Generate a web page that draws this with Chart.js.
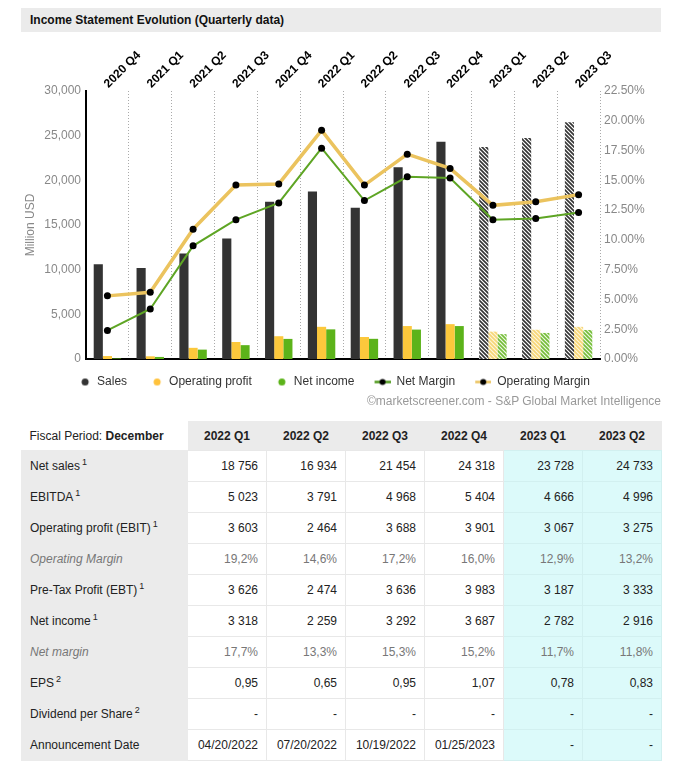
<!DOCTYPE html>
<html>
<head>
<meta charset="utf-8">
<script src="https://cdn.jsdelivr.net/npm/chart.js@4.4.0/dist/chart.umd.min.js"></script>
<style>
  body { margin: 0; background: #fff; font-family: "Liberation Sans", Arial, sans-serif; width: 678px; height: 762px; overflow: hidden; position: relative; }
  #title { position: absolute; left: 21px; top: 8px; width: 631px; height: 24px; line-height: 24px; padding-left: 9px; background: #ebebeb; font-weight: bold; font-size: 12px; color: #111; }
  #chartBox { position: absolute; left: 15px; top: 36px; width: 632px; height: 362px; }
  #credit { position: absolute; right: 17px; top: 394px; font-size: 12px; color: #999; }
  #fin { position: absolute; left: 21px; top: 421px; width: 640px; border-collapse: collapse; table-layout: fixed; font-size: 12px; color: #222; }
  #fin th { height: 29px; background: #ebebeb; font-weight: bold; text-align: center; padding: 0; border: none; }
  #fin th.first { background: #fff; font-weight: normal; text-align: left; padding-left: 8px; }
  #fin td { height: 30px; padding: 0 8px; border: 1px solid #e8e8e8; text-align: right; white-space: nowrap; }
  #fin td.lab { text-align: left; background: #ebebeb; border-color: #ebebeb; }
  #fin td.est { background: #dcfafa; border-color: #d2f0f0; }
  #fin tr.soft td { color: #777; }
  #fin tr.soft td.lab { font-style: italic; }
  #fin sup { font-size: 9px; vertical-align: 5px; line-height: 0; margin-left: 2px; }
</style>
</head>
<body>
<div id="title">Income Statement Evolution (Quarterly data)</div>
<div id="chartBox"><canvas id="myChart"></canvas></div>
<div id="credit">©marketscreener.com - S&amp;P Global Market Intelligence</div>
<table id="fin"></table>
<script>
// chart data (million USD / percent)
const quarters = ['2020 Q4', '2021 Q1', '2021 Q2', '2021 Q3', '2021 Q4', '2022 Q1', '2022 Q2', '2022 Q3', '2022 Q4', '2023 Q1', '2023 Q2', '2023 Q3'];
const sales = [10600, 10200, 11800, 13500, 17600, 18756, 16934, 21454, 24318, 23728, 24733, 26500];
const operatingProfit = [330, 300, 1250, 1900, 2550, 3603, 2464, 3688, 3901, 3067, 3275, 3600];
const netIncome = [60, 230, 1050, 1550, 2250, 3318, 2259, 3292, 3687, 2782, 2916, 3250];
const netMargin = [2.4, 4.2, 9.5, 11.7, 13.1, 17.7, 13.3, 15.3, 15.2, 11.7, 11.8, 12.3];
const operatingMargin = [5.3, 5.6, 10.9, 14.6, 14.7, 19.2, 14.6, 17.2, 16.0, 12.9, 13.2, 13.8];
const isEstimate = quarters.map(q => q.startsWith('2023'));

// table data
const tableQuarters = ['2022 Q1', '2022 Q2', '2022 Q3', '2022 Q4', '2023 Q1', '2023 Q2'];
const tableEstimate = [false, false, false, false, true, true];
const netSalesRow = [18756, 16934, 21454, 24318, 23728, 24733];
const ebitdaRow = [5023, 3791, 4968, 5404, 4666, 4996];
const ebitRow = [3603, 2464, 3688, 3901, 3067, 3275];
const opMarginRow = [19.2, 14.6, 17.2, 16.0, 12.9, 13.2];
const ebtRow = [3626, 2474, 3636, 3983, 3187, 3333];
const netIncomeRow = [3318, 2259, 3292, 3687, 2782, 2916];
const netMarginRow = [17.7, 13.3, 15.3, 15.2, 11.7, 11.8];
const epsRow = [0.95, 0.65, 0.95, 1.07, 0.78, 0.83];
const dividendRow = [null, null, null, null, null, null];
const announceRow = ['04/20/2022', '07/20/2022', '10/19/2022', '01/25/2023', null, null];

const SALES = '#333333', YELLOW = '#fcc83c', GREEN = '#5cb31a';

// striped fill for the estimated quarters
function stripes(fg, bg) {
    const c = document.createElement('canvas');
    c.width = 4; c.height = 4;
    const g = c.getContext('2d');
    g.fillStyle = bg; g.fillRect(0, 0, 4, 4);
    g.strokeStyle = fg; g.lineWidth = 1.6;
    g.beginPath();
    g.moveTo(-1, -1); g.lineTo(5, 5);
    g.moveTo(-1, 3); g.lineTo(1, 5);
    g.moveTo(3, -1); g.lineTo(5, 1);
    g.stroke();
    return g.createPattern(c, 'repeat');
}
const salesHatch = stripes('#333', '#fff');
const yellowHatch = stripes('#f6d677', '#fdf6dc');
const greenHatch = stripes('#74bd38', '#eef7e4');

// legend markers
function legendMark(lineColor, dotColor) {
    const c = document.createElement('canvas');
    c.width = 19; c.height = 9;
    const g = c.getContext('2d');
    if (lineColor) {
        g.strokeStyle = lineColor; g.lineWidth = 2.5;
        g.beginPath(); g.moveTo(3, 4.5); g.lineTo(19, 4.5); g.stroke();
        g.fillStyle = '#000';
        g.beginPath(); g.arc(11, 4.5, 3, 0, Math.PI * 2); g.fill();
    } else {
        g.fillStyle = dotColor;
        g.beginPath(); g.arc(13, 4.5, 3.5, 0, Math.PI * 2); g.fill();
    }
    return c;
}
const legendMarks = [legendMark(null, SALES), legendMark(null, '#ffc23c'), legendMark(null, GREEN),
    legendMark('#4f9a1c'), legendMark('#ebc35e')];

function barSet(label, data, color, hatch) {
    return {
        type: 'bar', label: label, data: data, order: 2,
        yAxisID: 'y', xAxisID: 'x',
        backgroundColor: ctx => isEstimate[ctx.dataIndex] ? hatch : color,
        barPercentage: 1, categoryPercentage: 0.64
    };
}
function lineSet(label, data, color, width) {
    return {
        type: 'line', label: label, data: data, order: 1,
        yAxisID: 'y1', xAxisID: 'x',
        borderColor: color, borderWidth: width, tension: 0,
        pointRadius: 3.5, pointBackgroundColor: '#000', pointBorderColor: '#000', pointBorderWidth: 0
    };
}

Chart.defaults.font.family = '"Liberation Sans", Arial, sans-serif';
Chart.defaults.font.size = 12;

new Chart(document.getElementById('myChart').getContext('2d'), {
    data: {
        labels: quarters,
        datasets: [
            barSet('Sales', sales, SALES, salesHatch),
            barSet('Operating profit', operatingProfit, YELLOW, yellowHatch),
            barSet('Net income', netIncome, GREEN, greenHatch),
            lineSet('Net Margin', netMargin, '#5ea524', 2),
            lineSet('Operating Margin', operatingMargin, '#ebc35e', 3.5)
        ]
    },
    options: {
        responsive: true,
        maintainAspectRatio: false,
        animation: false,
        layout: { padding: 0 },
        plugins: {
            tooltip: { enabled: false },
            legend: {
                position: 'bottom',
                labels: {
                    sort: (a, b) => a.datasetIndex - b.datasetIndex,
                    usePointStyle: true,
                    pointStyleWidth: 19,
                    padding: 17,
                    color: '#333',
                    font: { size: 12 },
                    generateLabels: chart => {
                        const items = Chart.defaults.plugins.legend.labels.generateLabels(chart);
                        items.forEach(it => { it.pointStyle = legendMarks[it.datasetIndex]; });
                        return items;
                    }
                }
            }
        },
        scales: {
            x: {
                position: 'top',
                offset: true,
                grid: { offset: true, drawTicks: false, color: '#aaa', lineWidth: 1 },
                border: { display: false, dash: [1, 2] },
                ticks: { minRotation: 45, maxRotation: 45, autoSkip: false, padding: 0, labelOffset: 9, color: '#000', font: { size: 12, weight: 'bold' } },
                afterFit: s => { s.height = 55; }
            },
            x2: {
                type: 'category',
                position: 'bottom',
                offset: true,
                grid: { display: false, drawTicks: false },
                ticks: { display: false },
                border: { color: '#000', width: 2 },
                afterFit: s => { s.height = 0; }
            },
            y: {
                position: 'left',
                min: 0, max: 30000,
                grid: { display: false, drawTicks: false },
                border: { color: '#000', width: 2 },
                ticks: { stepSize: 5000, padding: 5, color: '#888', callback: v => v.toLocaleString('en-US') },
                title: { display: true, text: 'Million USD', color: '#888', padding: { top: 8, bottom: 0 } },
                afterFit: s => { s.width = 71; }
            },
            y1: {
                position: 'right',
                min: 0, max: 22.5,
                grid: { display: false, drawTicks: false },
                border: { display: false },
                ticks: { stepSize: 2.5, padding: 4, color: '#888', callback: v => v.toFixed(2) + '%' },
                afterFit: s => { s.width = 47; }
            }
        }
    }
});

// table
const fmtInt = n => n.toLocaleString('en-US').replace(/,/g, ' ');
const fmtPct = n => n.toFixed(1).replace('.', ',') + '%';
const fmtDec = n => n.toFixed(2).replace('.', ',');
const rows = [
    ['Net sales', 1, netSalesRow, fmtInt, false],
    ['EBITDA', 1, ebitdaRow, fmtInt, false],
    ['Operating profit (EBIT)', 1, ebitRow, fmtInt, false],
    ['Operating Margin', 0, opMarginRow, fmtPct, true],
    ['Pre-Tax Profit (EBT)', 1, ebtRow, fmtInt, false],
    ['Net income', 1, netIncomeRow, fmtInt, false],
    ['Net margin', 0, netMarginRow, fmtPct, true],
    ['EPS', 2, epsRow, fmtDec, false],
    ['Dividend per Share', 2, dividendRow, fmtDec, false],
    ['Announcement Date', 0, announceRow, v => v, false]
];
let html = '<colgroup><col style="width:166px">' + tableQuarters.map(() => '<col style="width:79px">').join('') + '</colgroup>';
html += '<tr><th class="first">Fiscal Period: <b>December</b></th>' + tableQuarters.map(q => '<th>' + q + '</th>').join('') + '</tr>';
rows.forEach(([label, note, vals, fmt, soft]) => {
    html += '<tr' + (soft ? ' class="soft"' : '') + '><td class="lab">' + label + (note ? '<sup>' + note + '</sup>' : '') + '</td>';
    vals.forEach((v, i) => {
        html += '<td' + (tableEstimate[i] ? ' class="est"' : '') + '>' + (v === null ? '-' : fmt(v)) + '</td>';
    });
    html += '</tr>';
});
document.getElementById('fin').innerHTML = html;
</script>
</body>
</html>
